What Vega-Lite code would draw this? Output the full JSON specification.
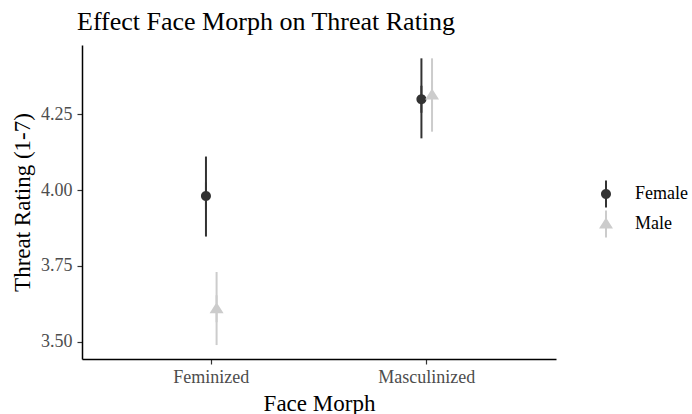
{
  "$schema": "https://vega.github.io/schema/vega-lite/v6.json",
  "width": 474,
  "height": 314,
  "autosize": {"type": "none"},
  "padding": {"left": 82, "top": 45, "right": 136, "bottom": 55},
  "background": "white",
  "config": {
    "font": "Liberation Serif",
    "view": {"stroke": null},
    "axis": {"grid": false, "domainColor": "black", "domainWidth": 1.5, "tickColor": "#333333", "tickWidth": 1.2, "tickSize": 5, "labelColor": "#4d4d4d", "labelFontSize": 18, "labelFont": "Liberation Serif", "titleFont": "Liberation Serif", "titleFontSize": 23, "titleFontWeight": "normal", "titleColor": "black"}
  },
  "title": {"text": "Effect Face Morph on Threat Rating", "anchor": "start", "frame": "group", "fontSize": 26, "fontWeight": "normal", "font": "Liberation Serif", "color": "black", "baseline": "alphabetic", "offset": 17, "dx": -5, "dy": 28},
  "data": {"values": [
    {"morph": "Feminized", "sex": "Female", "mean": 3.981, "lo": 3.847, "hi": 4.111},
    {"morph": "Feminized", "sex": "Male", "mean": 3.609, "lo": 3.489, "hi": 3.730},
    {"morph": "Masculinized", "sex": "Female", "mean": 4.300, "lo": 4.171, "hi": 4.435},
    {"morph": "Masculinized", "sex": "Male", "mean": 4.314, "lo": 4.193, "hi": 4.435}
  ]},
  "encoding": {
    "x": {"field": "morph", "type": "nominal", "title": "Face Morph",
      "scale": {"type": "band", "paddingInner": 0.803, "paddingOuter": 0.5015},
      "axis": {"labelAngle": 0, "labelPadding": 4, "titlePadding": 6}},
    "xOffset": {"field": "sex", "type": "nominal", "scale": {"paddingInner": 0, "paddingOuter": 1}},
    "color": {"field": "sex", "type": "nominal", "title": null,
      "scale": {"domain": ["Female", "Male"], "range": ["#333333", "#cccccc"]},
      "legend": {"orient": "none", "legendX": 515, "legendY": 140, "labelFontSize": 18, "labelColor": "black", "labelFont": "Liberation Serif", "symbolSize": 100, "labelOffset": 20, "rowPadding": 2, "symbolStrokeWidth": 0}}
  },
  "layer": [
    {
      "mark": {"type": "rule", "strokeWidth": 2},
      "encoding": {
        "y": {"field": "lo", "type": "quantitative", "title": "Threat Rating (1-7)",
          "scale": {"domain": [3.443, 4.479], "nice": false, "zero": false},
          "axis": {"values": [3.5, 3.75, 4.0, 4.25], "format": ".2f", "labelPadding": 5, "titlePadding": 6}},
        "y2": {"field": "hi"}
      }
    },
    {
      "mark": {"type": "point", "filled": true, "opacity": 1, "size": 100},
      "encoding": {
        "y": {"field": "mean", "type": "quantitative"},
        "shape": {"field": "sex", "type": "nominal", "title": null,
          "scale": {"domain": ["Female", "Male"], "range": [
            "M-1,0A1,1,0,1,1,1,0A1,1,0,1,1,-1,0ZM-0.2,-2.7H0.2V2.7H-0.2Z",
            "M0,-1.3L1.4,0.9L-1.4,0.9ZM-0.2,-2.7H0.2V2.7H-0.2Z"
          ]}}
      }
    }
  ]
}
